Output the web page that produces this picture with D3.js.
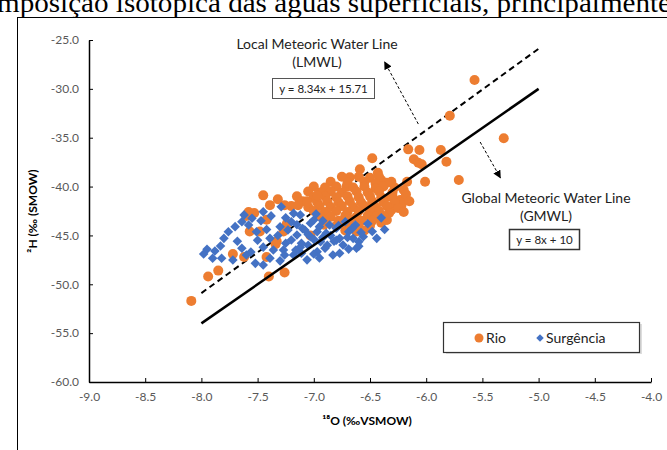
<!DOCTYPE html>
<html><head><meta charset="utf-8">
<script src="https://cdn.jsdelivr.net/npm/d3@7/dist/d3.min.js"></script>
<style>
html,body{margin:0;padding:0;background:#fff;}
svg{display:block;}
</style></head>
<body>
<svg id="c" width="667" height="450"></svg>
<script>
// ---------- data ----------
const xTicks = [-9.0,-8.5,-8.0,-7.5,-7.0,-6.5,-6.0,-5.5,-5.0,-4.5,-4.0];
const yTicks = [-25.0,-30.0,-35.0,-40.0,-45.0,-50.0,-55.0,-60.0];
const seriesNames = ["Rio","Surgência"];

const rio = [
 [-5.57,-29.1],[-5.79,-32.75],[-5.31,-35.06],[-6.16,-36.19],[-6.06,-36.26],[-5.87,-36.26],
 [-6.48,-37.11],[-6.11,-37.21],[-6.07,-37.56],[-5.82,-37.46],[-6.04,-37.72],[-6.59,-38.23],
 [-6.43,-38.58],[-6.68,-39.05],[-6.40,-39.33],[-6.31,-39.5],[-6.17,-39.5],[-6.01,-39.5],
 [-5.71,-39.33],[-6.20,-40.35],[-6.32,-41.04],[-6.23,-41.38],[-6.31,-42.40],[-6.35,-43.42],
 [-6.71,-40.02],
 [-6.75,-39.0],[-6.6,-39.0],[-6.5,-39.1],[-6.42,-39.0],
 [-6.85,-39.5],[-6.7,-39.6],[-6.55,-39.5],[-6.45,-39.7],[-6.35,-39.6],
 [-7.0,-40.0],[-6.9,-40.1],[-6.8,-40.0],[-6.65,-40.1],[-6.55,-40.0],[-6.45,-40.2],[-6.38,-40.0],[-6.28,-40.1],
 [-7.05,-40.5],[-6.95,-40.6],[-6.85,-40.5],[-6.75,-40.6],[-6.62,-40.5],[-6.52,-40.6],[-6.42,-40.5],[-6.3,-40.6],[-6.18,-40.8],
 [-7.15,-41.0],[-7.0,-41.1],[-6.9,-41.0],[-6.8,-41.1],[-6.7,-41.0],[-6.6,-41.1],[-6.5,-41.0],[-6.4,-41.1],[-6.3,-41.0],[-6.22,-41.9],
 [-7.1,-41.5],[-6.97,-41.6],[-6.88,-41.5],[-6.78,-41.6],[-6.68,-41.5],[-6.58,-41.6],[-6.48,-41.5],[-6.38,-41.6],[-6.28,-41.7],[-6.15,-41.5],
 [-7.2,-42.0],[-7.05,-42.1],[-6.95,-42.0],[-6.85,-42.1],[-6.75,-42.0],[-6.65,-42.1],[-6.55,-42.0],[-6.45,-42.1],[-6.35,-42.0],[-6.25,-42.2],
 [-7.0,-42.5],[-6.9,-42.6],[-6.8,-42.5],[-6.7,-42.6],[-6.6,-42.5],[-6.5,-42.6],[-6.42,-42.5],[-6.33,-42.7],[-6.2,-42.6],
 [-6.95,-43.0],[-6.85,-43.1],[-6.72,-43.0],[-6.62,-43.1],[-6.52,-43.0],[-6.45,-43.1],[-6.38,-43.0],
 [-6.9,-43.5],[-6.78,-43.5],[-6.68,-43.4],[-6.58,-43.5],[-6.48,-43.5],[-6.4,-43.7],
 [-6.8,-44.0],[-6.7,-44.0],[-6.6,-44.1],[-6.5,-44.0],
 [-6.72,-44.5],[-6.62,-44.6],[-6.55,-44.5],
 [-7.45,-40.9],[-7.58,-42.6],[-7.53,-42.7],[-7.39,-41.9],[-7.32,-41.3],[-7.26,-41.9],[-7.14,-41.9],
 [-7.06,-41.5],[-6.97,-40.9],[-7.42,-43.4],[-7.57,-44.6],[-7.33,-45.6],[-7.24,-43.8],[-7.27,-44.6],
 [-7.72,-46.9],[-7.94,-49.2],[-7.85,-48.6],[-8.09,-51.7],[-7.42,-47.2],[-7.40,-49.2],[-7.26,-48.8],
 [-7.34,-45.9],[-7.03,-45.0],[-6.91,-43.9],[-7.48,-44.6],[-7.6,-43.0],[-7.62,-47.2]
];

const surgencia = [
 [-7.95,-46.42],[-7.90,-47.34],[-7.82,-47.34],[-7.83,-46.08],[-7.76,-44.62],[-7.64,-43.60],
 [-7.58,-43.94],[-7.55,-43.25],[-7.45,-42.57],[-7.51,-44.62],[-7.64,-46.32],[-7.60,-47.01],
 [-7.72,-47.52],[-7.52,-47.86],[-7.45,-48.03],[-7.39,-47.34],[-7.39,-45.30],[-7.36,-46.49],
 [-7.29,-42.06],[-7.18,-42.74],[-7.30,-44.11],[-7.23,-44.45],[-7.20,-45.47],[-7.27,-46.49],
 [-7.26,-47.01],[-7.15,-44.96],[-7.11,-45.81],[-7.08,-44.45],[-7.03,-43.76],[-7.00,-43.42],
 [-6.97,-44.62],[-6.94,-45.64],[-6.90,-46.32],[-6.89,-44.78],[-6.86,-43.94],[-6.80,-44.27],
 [-6.77,-45.30],[-6.74,-45.98],[-6.69,-44.62],[-6.63,-43.94],[-6.60,-45.64],[-6.56,-45.13],
 [-6.77,-46.83],[-6.83,-47.01],[-6.97,-46.67],[-7.11,-46.83],[-7.18,-47.01],[-7.03,-45.13],
 [-6.92,-45.2],[-7.20,-43.6],
 [-7.15,-43.9],[-7.10,-44.3],[-7.05,-44.9],[-7.00,-45.4],[-6.95,-44.1],[-6.92,-43.5],
 [-6.85,-45.0],[-6.82,-45.6],[-6.78,-44.0],[-6.72,-43.6],[-6.70,-45.2],[-6.66,-44.3],
 [-6.62,-46.3],[-6.58,-44.7],[-6.52,-43.8],[-6.48,-44.6],[-6.44,-45.3],[-6.40,-43.2],
 [-6.37,-44.4],[-6.65,-45.3],[-6.60,-46.1],[-6.69,-46.4],[-7.12,-46.2],[-7.05,-46.0],
 [-7.0,-46.9],[-6.95,-47.3],[-7.25,-45.8],[-7.32,-45.0],[-7.42,-44.4],[-7.47,-43.5],
 [-7.5,-45.5],[-7.56,-46.7],[-7.68,-45.6],[-7.70,-44.1],[-7.8,-45.3],[-7.88,-46.6],
 [-7.98,-46.9],[-7.62,-42.9],[-7.38,-43.0],[-7.25,-43.2],[-7.12,-42.9],[-6.98,-42.8],
 [-7.06,-47.5],[-7.16,-46.5],[-6.88,-46.0],[-6.8,-45.5],[-7.3,-47.6],[-7.45,-46.2]
];

const lmwlX = [-8.0,-5.0], lmwlY = [-50.9,-25.9];
const gmwlX = [-8.0,-5.0], gmwlY = [-54.0,-30.0];
const arrowL = [[-6.07,-33.6],[-6.37,-27.25]];
const arrowG = [[-5.52,-35.44],[-5.34,-39.1]];

// ---------- drawing ----------
const svg = d3.select("#c");
const font = "Lato, 'Open Sans', sans-serif";
const L=89, R=651, T=40, B=382;
const x = d3.scaleLinear().domain([-9,-4]).range([L,R]);
const y = d3.scaleLinear().domain([-60,-25]).range([B,T]);

// document text & frame
svg.append("text").attr("x",-3).attr("y",12)
  .attr("font-family","'Liberation Serif', 'Times New Roman', serif").attr("font-size",27)
  .attr("textLength",674).attr("lengthAdjust","spacingAndGlyphs")
  .attr("fill","#000").text("mposição isotópica das águas superficiais, principalmente");
svg.append("rect").attr("x",17.5).attr("y",17.5).attr("width",700).attr("height",500)
  .attr("fill","none").attr("stroke","#000").attr("stroke-width",1);

const defs = svg.append("defs");
defs.append("marker").attr("id","ah").attr("viewBox","0 0 10 10").attr("refX",9).attr("refY",5)
  .attr("markerWidth",8).attr("markerHeight",8).attr("orient","auto")
  .append("path").attr("d","M0,0L10,5L0,10Z").attr("fill","#000");

// axes
const ya = svg.append("g").attr("transform",`translate(${L},0)`)
  .call(d3.axisLeft(y).tickValues(yTicks).tickFormat(d3.format(".1f")).tickSizeInner(-4).tickSizeOuter(0).tickPadding(10));
const xa = svg.append("g").attr("transform",`translate(0,${B})`)
  .call(d3.axisBottom(x).tickValues(xTicks).tickFormat(d3.format(".1f")).tickSizeInner(-4).tickSizeOuter(0).tickPadding(10));
[ya,xa].forEach(g=>{
  g.selectAll("path.domain").attr("stroke","#000").attr("stroke-width",1.5);
  g.selectAll(".tick line").attr("stroke","#000");
  g.selectAll("text").attr("font-family",font).attr("font-size",12).attr("fill","#595959");
});
svg.selectAll(".tick text").text(function(){return d3.select(this).text().replace("−","-");});

// axis titles
svg.append("text").attr("transform","translate(37,211) rotate(-90)").attr("text-anchor","middle")
  .attr("font-family",font).attr("font-size",12).attr("font-weight","bold").attr("fill","#000")
  .text("²H (‰ (SMOW)");
svg.append("text").attr("x",367).attr("y",425).attr("text-anchor","middle")
  .attr("font-family",font).attr("font-size",12).attr("font-weight","bold").attr("fill","#000")
  .text("¹⁸O (‰VSMOW)");

// lines
const ln = d3.line().x(d=>x(d[0])).y(d=>y(d[1]));
svg.append("path").attr("d",ln(d3.zip(lmwlX,lmwlY))).attr("stroke","#000").attr("stroke-width",2)
  .attr("stroke-dasharray","6,4").attr("fill","none");

// points (Rio first, Surgência on top)
const orange="#ED7D31", blue="#4472C4";
svg.append("g").selectAll("circle").data(rio).join("circle")
  .attr("cx",d=>x(d[0])).attr("cy",d=>y(d[1])).attr("r",5).attr("fill",orange);
svg.append("g").selectAll("path").data(surgencia).join("path")
  .attr("d",d3.symbol(d3.symbolSquare,46)())
  .attr("transform",d=>`translate(${x(d[0])},${y(d[1])}) rotate(45)`)
  .attr("fill",blue);

svg.append("path").attr("d",ln(d3.zip(gmwlX,gmwlY))).attr("stroke","#000").attr("stroke-width",2.5)
  .attr("fill","none");

// arrows
[arrowL,arrowG].forEach(a=>{
  svg.append("path").attr("d",ln(a)).attr("stroke","#000").attr("stroke-width",1)
    .attr("stroke-dasharray","3,2").attr("fill","none").attr("marker-end","url(#ah)");
});

// annotations
function label(lines, cx, y0){
  lines.forEach((t,i)=>svg.append("text").attr("x",cx).attr("y",y0+i*18).attr("text-anchor","middle")
    .attr("font-family",font).attr("font-size",14).attr("fill","#222").text(t));
}
label(["Local Meteoric Water Line","(LMWL)"],317,49);
svg.append("rect").attr("x",272.5).attr("y",78.5).attr("width",102).attr("height",20)
  .attr("fill","#fff").attr("stroke","#555");
svg.append("text").attr("x",323.5).attr("y",93).attr("text-anchor","middle")
  .attr("font-family",font).attr("font-size",11.5).attr("fill","#222").text("y = 8.34x + 15.71");

label(["Global Meteoric Water Line","(GMWL)"],546,203);
svg.append("rect").attr("x",509.5).attr("y",229.5).attr("width",70).attr("height",20)
  .attr("fill","#fff").attr("stroke","#333").attr("stroke-width",1.5);
svg.append("text").attr("x",544.5).attr("y",244).attr("text-anchor","middle")
  .attr("font-family",font).attr("font-size",11.5).attr("fill","#222").text("y = 8x + 10");

// legend
svg.append("rect").attr("x",446).attr("y",324).attr("width",196).attr("height",30).attr("fill","#ddd");
svg.append("rect").attr("x",443.5).attr("y",322.5).attr("width",196).attr("height",30)
  .attr("fill","#fff").attr("stroke","#333").attr("stroke-width",1.2);
svg.append("circle").attr("cx",479).attr("cy",338).attr("r",4.5).attr("fill",orange);
svg.append("text").attr("x",486).attr("y",343).attr("font-family",font).attr("font-size",14)
  .attr("fill","#222").text(seriesNames[0]);
svg.append("path").attr("d",d3.symbol(d3.symbolSquare,28)()).attr("transform","translate(540,338) rotate(45)")
  .attr("fill",blue);
svg.append("text").attr("x",546).attr("y",343).attr("font-family",font).attr("font-size",14)
  .attr("fill","#222").text(seriesNames[1]);
</script>
</body></html>
